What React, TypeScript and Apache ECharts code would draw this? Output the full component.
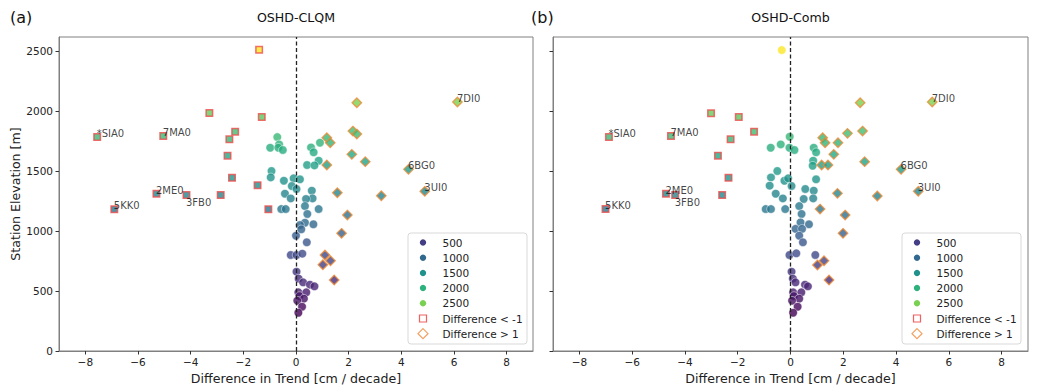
import React, { useEffect, useRef } from 'react';
import * as echarts from 'echarts';

// Labelled stations come first in each panel's arrays
const stationNames = ['*SIA0', '7MA0', '2ME0', '5KK0', '3FB0', '6BG0', '3UI0', '7DI0'];

const clqmDiff = [
  -7.55, -5.04, -5.30, -6.90, -4.16, 4.27, 4.89, 6.13,
  -1.40, -3.29, -1.30, -2.31, -2.53, -2.60, -2.43, -1.46, -2.86, -1.05,
  2.31, 2.16, 2.31, 1.17, 1.30, 2.12, 2.63, 1.17, 1.57, 3.24, 1.95, 1.73, 1.10, 1.31, 1.02, 1.45,
  -0.71, -0.64, -0.98, -0.67, -0.50, 0.57, 0.91, 0.67, 0.86, 0.42, 0.70,
  -0.93, -0.96, -0.46, -0.09, 0.15, -0.16, 0.02, -0.42, -0.20, 0.60, 0.63, 0.38, 0.34,
  0.86, -0.56, -0.39, 0.43, 0.34, 0.15, 0.66, 0.20, 0.00, 0.41, -0.20, 0.02, 0.24,
  0.02, 0.10, 0.27, 0.53, 0.70, 0.09, 0.39, 0.13, 0.30, 0.05, 0.23, 0.09,
];
const clqmElev = [
  1783, 1792, 1311, 1181, 1300, 1514, 1331, 2075,
  2510, 1983, 1950, 1828, 1764, 1628, 1444, 1381, 1300, 1181,
  2069, 1833, 1808, 1778, 1736, 1639, 1578, 1550, 1319, 1294, 1133, 981, 800, 752, 719, 592,
  1783, 1722, 1694, 1694, 1675, 1697, 1736, 1656, 1586, 1550, 1547,
  1500, 1447, 1419, 1439, 1431, 1375, 1350, 1311, 1272, 1336, 1272, 1267, 1208,
  1183, 1183, 1183, 1142, 1069, 1050, 1056, 1014, 961, 906, 800, 800, 811,
  661, 603, 572, 553, 539, 489, 489, 458, 436, 419, 369, 319,
];

const combDiff = [
  -6.88, -4.53, -4.72, -7.01, -4.37, 4.19, 4.84, 5.37,
  -3.01, -1.96, -1.38, -2.27, -2.75, -2.35, -2.59,
  2.64, 2.16, 2.73, 1.22, 1.31, 1.80, 1.64, 2.81, 1.18, 1.42, 1.78, 3.29, 1.12, 2.07, 1.99, 1.27, 1.02, 1.46,
  -0.33, -0.03, -0.37, -0.75, -0.04, 0.15, 0.88, 0.97, 0.86, 0.84,
  -0.50, -0.74, -0.23, -0.09, 0.04, -0.79, -0.56, -0.29, 0.97, 0.56, 0.88, 0.50, 0.86, 0.33,
  -0.94, -0.74, -0.20, 0.42, 0.38, 0.70, 0.19, 0.44, 0.33, 0.47, -0.04, 0.22, 0.94,
  0.04, 0.09, 0.19, 0.55, 0.66, 0.10, 0.41, 0.13, 0.33, 0.06, 0.27, 0.10,
];
const combElev = [
  1783, 1792, 1311, 1183, 1300, 1514, 1331, 2075,
  1981, 1950, 1828, 1764, 1628, 1444, 1300,
  2069, 1814, 1833, 1778, 1736, 1736, 1639, 1578, 1550, 1550, 1314, 1292, 1183, 1133, 981, 752, 717, 592,
  2508, 1786, 1722, 1694, 1694, 1675, 1694, 1656, 1586, 1544,
  1500, 1447, 1419, 1439, 1375, 1378, 1311, 1272, 1431, 1350, 1336, 1267, 1272, 1208,
  1183, 1183, 1183, 1142, 1072, 1056, 1018, 1018, 961, 906, 800, 814, 800,
  661, 603, 572, 553, 539, 489, 489, 458, 436, 419, 369, 319,
];

const xTicks = [-8, -6, -4, -2, 0, 2, 4, 6, 8];
const yTicks = [0, 500, 1000, 1500, 2000, 2500];
const legendLevels = ['500', '1000', '1500', '2000', '2500'];
const legendLevelColors = ['#433e85', '#31688e', '#21918c', '#2db27d', '#7ad151'];
const legendMarkerLabels = ['Difference < -1', 'Difference > 1'];
const panelTitles = ['OSHD-CLQM', 'OSHD-Comb'];
const panelTags = ['(a)', '(b)'];

const VIRIDIS = ['#440154', '#482475', '#414487', '#355f8d', '#2a788e', '#21918c', '#22a884', '#44bf70', '#7ad151', '#bddf26', '#fde725'];
function hexToRgb(h: string) {
  return [parseInt(h.slice(1, 3), 16), parseInt(h.slice(3, 5), 16), parseInt(h.slice(5, 7), 16)];
}
function viridis(t: number) {
  const c = Math.max(0, Math.min(1, t)) * (VIRIDIS.length - 1);
  const i = Math.min(Math.floor(c), VIRIDIS.length - 2);
  const f = c - i;
  const a = hexToRgb(VIRIDIS[i]);
  const b = hexToRgb(VIRIDIS[i + 1]);
  const m = a.map((v, k) => Math.round(v + (b[k] - v) * f));
  return `rgb(${m[0]},${m[1]},${m[2]})`;
}

const FONT = 'DejaVu Sans';
const RED = '#ee4b4b';
const ORANGE = '#ee8a35';

export default function App() {
  const ref = useRef<HTMLDivElement>(null);
  useEffect(() => {
    document.body.style.margin = '0';
    const chart = echarts.init(ref.current!, null, { renderer: 'svg' });
    const allElev = clqmElev.concat(combElev);
    const eMin = Math.min(...allElev);
    const eMax = Math.max(...allElev);
    const col = (e: number) => viridis((e - eMin) / (eMax - eMin));

    const grids = [
      { left: 59, top: 37, width: 474, height: 314 },
      { left: 553, top: 37, width: 475, height: 314 },
    ];
    const panels = [
      { diff: clqmDiff, elev: clqmElev },
      { diff: combDiff, elev: combElev },
    ];

    const xAxis: any[] = [];
    const yAxis: any[] = [];
    const series: any[] = [];
    const graphic: any[] = [];

    panels.forEach((p, i) => {
      xAxis.push({
        type: 'value', gridIndex: i, min: -9, max: 9,
        splitLine: { show: false },
        axisLine: { show: true, onZero: false, lineStyle: { color: '#808080', width: 1 } },
        axisTick: { show: true, length: 3.5, customValues: xTicks, lineStyle: { color: '#333' } },
        axisLabel: {
          customValues: xTicks, fontSize: 10.5, fontFamily: FONT, color: '#222', margin: 5,
          formatter: (v: number) => (v < 0 ? '\u2212' + Math.abs(v) : String(v)),
        },
        name: 'Difference in Trend [cm / decade]', nameLocation: 'middle', nameGap: 17,
        nameTextStyle: { fontSize: 12.6, fontFamily: FONT, color: '#222' },
      });
      yAxis.push({
        type: 'value', gridIndex: i, min: 0, max: 2617,
        splitLine: { show: false },
        axisLine: { show: true, onZero: false, lineStyle: { color: '#808080', width: 1 } },
        axisTick: { show: true, length: 3.5, customValues: yTicks, lineStyle: { color: '#333' } },
        axisLabel: {
          show: i === 0, customValues: yTicks, fontSize: 10.5, fontFamily: FONT, color: '#222', margin: 6,
          formatter: (v: number) => String(v),
        },
        name: i === 0 ? 'Station Elevation [m]' : '', nameLocation: 'middle', nameGap: 36,
        nameTextStyle: { fontSize: 12.6, fontFamily: FONT, color: '#222' },
      });

      const circ: any[] = [];
      const sq: any[] = [];
      const dia: any[] = [];
      p.diff.forEach((d, k) => {
        const item = { value: [d, p.elev[k]], itemStyle: { color: col(p.elev[k]) } };
        if (d < -1) sq.push(item);
        else if (d > 1) dia.push(item);
        else circ.push(item);
      });
      series.push({
        type: 'scatter', xAxisIndex: i, yAxisIndex: i, symbol: 'circle', symbolSize: 8.5,
        itemStyle: { borderColor: '#fff', borderWidth: 0.6 }, data: circ, z: 3,
        markLine: {
          silent: true, symbol: ['none', 'none'], label: { show: false },
          lineStyle: { type: [4, 2.5], color: '#222', width: 1.3 },
          data: [{ xAxis: 0 }],
        },
      });
      series.push({
        type: 'scatter', xAxisIndex: i, yAxisIndex: i, symbol: 'rect', symbolSize: 6.5,
        itemStyle: { borderColor: RED, borderWidth: 1.5 }, data: sq, z: 4,
      });
      series.push({
        type: 'scatter', xAxisIndex: i, yAxisIndex: i, symbol: 'diamond', symbolSize: 9.5,
        itemStyle: { borderColor: ORANGE, borderWidth: 1.3 }, data: dia, z: 4,
      });
      series.push({
        type: 'scatter', xAxisIndex: i, yAxisIndex: i, symbolSize: 1, silent: true,
        itemStyle: { color: 'rgba(0,0,0,0)' }, z: 5,
        data: stationNames.map((n, k) => ({
          value: [p.diff[k], p.elev[k]], name: n,
          label: n === '3FB0'
            ? { position: [0, 3], verticalAlign: 'top' }
            : { position: [0, 2], verticalAlign: 'bottom' },
        })),
        label: {
          show: true, formatter: (prm: any) => prm.name, align: 'left',
          fontSize: 10, fontFamily: FONT, color: '#111',
        },
      });

      const g = grids[i];
      const cx = g.left + g.width / 2;
      graphic.push({ type: 'text', x: cx, y: 17, style: { text: panelTitles[i], fontSize: 12.6, fontFamily: FONT, fill: '#111', align: 'center', verticalAlign: 'middle' } });
      graphic.push({ type: 'text', x: i === 0 ? 10 : 531, y: 17, style: { text: panelTags[i], fontSize: 16, fontFamily: FONT, fill: '#111', align: 'left', verticalAlign: 'middle' } });

      // legend box
      const lx = g.left + 349;
      const ly = 233;
      const children: any[] = [];
      children.push({ type: 'rect', shape: { x: lx, y: ly, width: 119, height: 111, r: 3 }, style: { fill: '#fff', stroke: '#d9d9d9', lineWidth: 1 }, z: 10 });
      const rowY = (r: number) => ly + 9.5 + r * 15.2;
      legendLevels.forEach((t, r) => {
        children.push({ type: 'circle', shape: { cx: lx + 15, cy: rowY(r), r: 3.2 }, style: { fill: legendLevelColors[r] }, z: 11 });
        children.push({ type: 'text', x: lx + 34.5, y: rowY(r), style: { text: t, fontSize: 10.5, fontFamily: FONT, fill: '#222', align: 'left', verticalAlign: 'middle' }, z: 11 });
      });
      children.push({ type: 'rect', shape: { x: lx + 11.5, y: rowY(5) - 3.5, width: 7, height: 7 }, style: { fill: 'none', stroke: '#f26060', lineWidth: 1.2 }, z: 11 });
      children.push({ type: 'polygon', shape: { points: [[lx + 15, rowY(6) - 5], [lx + 20, rowY(6)], [lx + 15, rowY(6) + 5], [lx + 10, rowY(6)]] }, style: { fill: 'none', stroke: '#f3a060', lineWidth: 1.2 }, z: 11 });
      legendMarkerLabels.forEach((t, r) => {
        children.push({ type: 'text', x: lx + 34.5, y: rowY(5 + r), style: { text: t, fontSize: 10.5, fontFamily: FONT, fill: '#222', align: 'left', verticalAlign: 'middle' }, z: 11 });
      });
      graphic.push({ type: 'group', children });
    });

    chart.setOption({
      animation: false,
      backgroundColor: '#fff',
      grid: grids.map((g) => ({ ...g, show: true, borderColor: '#808080', borderWidth: 1, backgroundColor: 'transparent' })),
      xAxis,
      yAxis,
      series,
      graphic,
    });
    return () => chart.dispose();
  }, []);
  return <div ref={ref} style={{ width: 1038, height: 392 }} />;
}
